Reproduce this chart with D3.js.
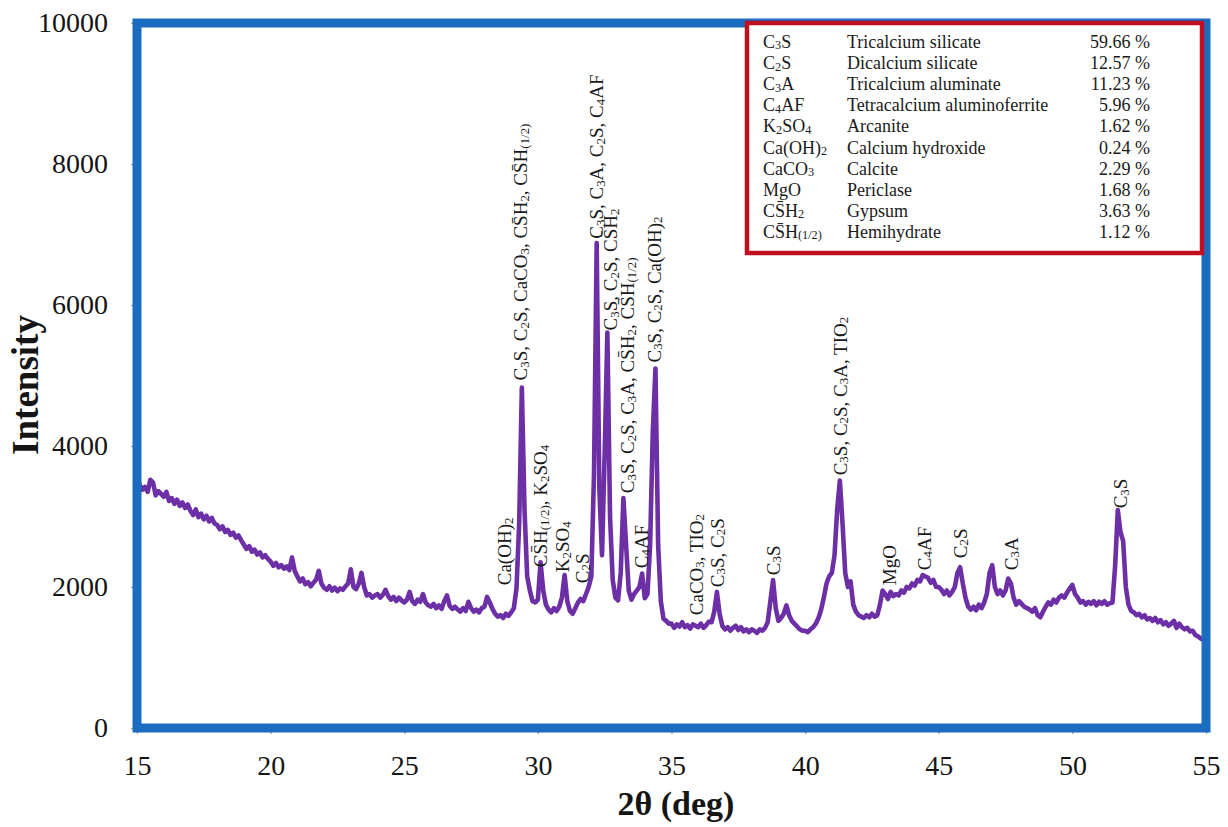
<!DOCTYPE html>
<html>
<head>
<meta charset="utf-8">
<script src="https://cdn.jsdelivr.net/npm/d3@7"></script>
<style>
  html, body { margin: 0; padding: 0; background: #fff; }
  svg { display: block; }
</style>
</head>
<body>
<svg id="chart" width="1228" height="827"></svg>
<script>
// XRD scan of cement clinker: counts sampled every 0.1 deg from 15 to 55 deg 2θ
const scanStart = 15;
const scanStep = 0.1;
const intensity = [
  3580, 3450, 3380, 3420, 3350, 3520, 3480, 3300, 3360, 3320, // 15
  3280, 3350, 3220, 3260, 3180, 3240, 3150, 3200, 3120, 3170, // 16
  3080, 3020, 3100, 2990, 3040, 2960, 3010, 2930, 2980, 2900, // 17
  2880, 2820, 2860, 2780, 2810, 2740, 2770, 2700, 2730, 2660, // 18
  2600, 2540, 2580, 2500, 2530, 2460, 2490, 2420, 2450, 2400, // 19
  2360, 2300, 2340, 2280, 2310, 2260, 2290, 2240, 2420, 2230, // 20
  2150, 2080, 2120, 2040, 2070, 2010, 2060, 2100, 2230, 2050, // 21
  1990, 1960, 2010, 1950, 1990, 1940, 1980, 1960, 2010, 2050, // 22
  2250, 2000, 1970, 2050, 2200, 2000, 1880, 1900, 1850, 1880, // 23
  1900, 1850, 1890, 1960, 1870, 1820, 1860, 1800, 1850, 1810, // 24
  1780, 1820, 1930, 1800, 1760, 1820, 1790, 1900, 1780, 1740, // 25
  1720, 1760, 1700, 1740, 1690, 1800, 1880, 1730, 1690, 1720, // 26
  1680, 1650, 1700, 1660, 1790, 1700, 1650, 1680, 1640, 1700, // 27
  1720, 1860, 1780, 1690, 1620, 1580, 1600, 1560, 1620, 1590, // 28
  1640, 1700, 1980, 2900, 4830, 3100, 2150, 1950, 1800, 1780, // 29
  1820, 2350, 1950, 1750, 1680, 1640, 1700, 1660, 1720, 1850, // 30
  2170, 1800, 1660, 1620, 1700, 1780, 1830, 1800, 1900, 2000, // 31
  2150, 3600, 6880, 3400, 2450, 3900, 5610, 3000, 2100, 1850, // 32
  1810, 2200, 3260, 2600, 1950, 1820, 1900, 1950, 2000, 2190, // 33
  1840, 1900, 2600, 4200, 5100, 2600, 1800, 1550, 1520, 1480, // 34
  1480, 1420, 1470, 1440, 1500, 1430, 1460, 1410, 1470, 1450, // 35
  1430, 1480, 1420, 1460, 1510, 1500, 1650, 1930, 1620, 1450, // 36
  1400, 1430, 1380, 1420, 1450, 1390, 1430, 1370, 1400, 1360, // 37
  1400, 1380, 1350, 1400, 1380, 1420, 1500, 1800, 2100, 1700, // 38
  1520, 1560, 1620, 1740, 1600, 1520, 1480, 1440, 1400, 1380, // 39
  1380, 1360, 1400, 1430, 1480, 1560, 1680, 1850, 2050, 2150, // 40
  2200, 2450, 3100, 3510, 2900, 2200, 2000, 2080, 1750, 1650, // 41
  1600, 1580, 1560, 1600, 1570, 1620, 1580, 1600, 1750, 1950, // 42
  1900, 1830, 1930, 1870, 1900, 1880, 1950, 1920, 2000, 1980, // 43
  2050, 2020, 2100, 2080, 2170, 2150, 2130, 2060, 2100, 2000, // 44
  2000, 1960, 1900, 1950, 1880, 1930, 2000, 2200, 2280, 2050, // 45
  1850, 1720, 1680, 1720, 1670, 1750, 1700, 1780, 1900, 2200, // 46
  2310, 2000, 1900, 1950, 1880, 1950, 2120, 2050, 1850, 1750, // 47
  1800, 1760, 1720, 1700, 1680, 1650, 1700, 1600, 1570, 1650, // 48
  1720, 1780, 1750, 1820, 1780, 1850, 1880, 1850, 1920, 1980, // 49
  2030, 1900, 1850, 1780, 1800, 1750, 1790, 1760, 1800, 1740, // 50
  1790, 1760, 1800, 1750, 1770, 1780, 2300, 3090, 2780, 2650, // 51
  2000, 1750, 1660, 1640, 1600, 1620, 1570, 1600, 1540, 1560, // 52
  1520, 1560, 1500, 1530, 1470, 1500, 1450, 1480, 1520, 1420, // 53
  1480, 1430, 1400, 1420, 1370, 1380, 1320, 1300, 1270, 1250, // 54
  1260                                                        // 55
];

// Phase assignments: 2θ and intensity where each label starts; {..} = subscript
const OB = "S\u0304";  // S with overbar (sulfate, cement notation)
const peakTheta = [28.76, 29.36, 30.10, 30.93, 31.67, 32.20, 32.72, 33.36, 33.88, 34.36,
                   35.93, 36.72, 38.81, 41.32, 43.15, 44.46, 45.80, 47.71, 51.82];
const peakLabelAt = [2025, 4930, 2280, 2210, 2054, 6940, 5640, 3330, 2266, 5184,
                     1600, 1997, 2167, 3584, 2025, 2238, 2408, 2238, 3116];
const peakText = [
  "Ca(OH){2}",
  "C{3}S, C{2}S, CaCO{3}, C" + OB + "H{2}, C" + OB + "H{(1/2)}",
  "C" + OB + "H{(1/2)}, K{2}SO{4}",
  "K{2}SO{4}",
  "C{2}S",
  "C{3}S, C{3}A, C{2}S, C{4}AF",
  "C{3}S, C{2}S, C" + OB + "H{2}",
  "C{3}S, C{2}S, C{3}A, C" + OB + "H{2}, C" + OB + "H{(1/2)}",
  "C{4}AF",
  "C{3}S, C{2}S, Ca(OH){2}",
  "CaCO{3}, TIO{2}",
  "C{3}S, C{2}S",
  "C{3}S",
  "C{3}S, C{2}S, C{3}A, TIO{2}",
  "MgO",
  "C{4}AF",
  "C{2}S",
  "C{3}A",
  "C{3}S"
];

// Phase composition table
const phaseFormula = ["C{3}S", "C{2}S", "C{3}A", "C{4}AF", "K{2}SO{4}", "Ca(OH){2}",
                      "CaCO{3}", "MgO", "C" + OB + "H{2}", "C" + OB + "H{(1/2)}"];
const phaseName = ["Tricalcium silicate", "Dicalcium silicate", "Tricalcium aluminate",
                   "Tetracalcium aluminoferrite", "Arcanite", "Calcium hydroxide",
                   "Calcite", "Periclase", "Gypsum", "Hemihydrate"];
const phasePercent = [59.66, 12.57, 11.23, 5.96, 1.62, 0.24, 2.29, 1.68, 3.63, 1.12];

const xTicks = [15, 20, 25, 30, 35, 40, 45, 50, 55];
const yTicks = [0, 2000, 4000, 6000, 8000, 10000];

const serif = "'Liberation Serif', 'Times New Roman', serif";
const svg = d3.select("#chart");

const x = d3.scaleLinear().domain([15, 55]).range([137, 1206]);
const y = d3.scaleLinear().domain([0, 10000]).range([728, 23]);

const scan = intensity.map((v, i) => [scanStart + i * scanStep, v]);

// Writes "C{3}S"-style strings into a text node, shrinking braced parts
function richText(sel, str, size) {
  const parts = str.split(/(\{[^}]*\})/).filter(s => s.length);
  let shifted = false;
  parts.forEach(p => {
    const isSub = p[0] === "{";
    const t = sel.append("tspan").text(isSub ? p.slice(1, -1) : p)
      .attr("font-size", isSub ? size * 0.68 : size);
    if (isSub && !shifted) { t.attr("dy", size * 0.08); shifted = true; }
    else if (!isSub && shifted) { t.attr("dy", -size * 0.08); shifted = false; }
  });
}

// Axes (ticks only; the frame is drawn separately)
const xAxis = svg.append("g").attr("transform", `translate(0,${y(0)})`)
  .call(d3.axisBottom(x).tickValues(xTicks).tickSize(6).tickPadding(21).tickFormat(d3.format("d")));
const yAxis = svg.append("g").attr("transform", `translate(${x(15)},0)`)
  .call(d3.axisLeft(y).tickValues(yTicks).tickSize(6).tickPadding(23).tickFormat(d3.format("d")));
[xAxis, yAxis].forEach(g => {
  g.select(".domain").remove();
  g.selectAll(".tick line").attr("stroke", "#9a9a9a").attr("stroke-width", 1.2);
  g.selectAll(".tick text").attr("font-family", serif).attr("font-size", 28).attr("fill", "#151515");
});

// Diffraction trace
svg.append("path")
  .datum(scan)
  .attr("fill", "none")
  .attr("stroke", "#6d2fa6")
  .attr("stroke-width", 4.6)
  .attr("stroke-linejoin", "round")
  .attr("d", d3.line().x(d => x(d[0])).y(d => y(d[1])));

// Plot frame
svg.append("rect")
  .attr("x", x(15)).attr("y", y(10000))
  .attr("width", x(55) - x(15)).attr("height", y(0) - y(10000))
  .attr("fill", "none").attr("stroke", "#1a6cc0").attr("stroke-width", 9);

// Peak phase labels, rotated to read upward
const lblSize = 19;
peakText.forEach((s, i) => {
  const t = svg.append("text")
    .attr("transform", `translate(${x(peakTheta[i]) + lblSize * 0.34},${y(peakLabelAt[i])}) rotate(-90)`)
    .attr("font-family", serif).attr("fill", "#1a1a1a");
  richText(t, s, lblSize);
});

// Axis titles
svg.append("text")
  .attr("x", 676).attr("y", 815)
  .attr("text-anchor", "middle")
  .attr("font-family", serif).attr("font-weight", "bold").attr("font-size", 34)
  .attr("fill", "#151515")
  .text("2θ (deg)");
svg.append("text")
  .attr("transform", "translate(38,385) rotate(-90)")
  .attr("text-anchor", "middle")
  .attr("font-family", serif).attr("font-weight", "bold").attr("font-size", 37)
  .attr("fill", "#151515")
  .text("Intensity");

// Composition table
const box = svg.append("g");
box.append("rect")
  .attr("x", 747).attr("y", 23).attr("width", 455).attr("height", 230)
  .attr("fill", "#fff").attr("stroke", "#c01020").attr("stroke-width", 4.5);
const rowY = d3.scaleLinear().domain([0, 9]).range([48, 238]);
const legSize = 18;
phaseFormula.forEach((f, i) => {
  const t = box.append("text").attr("x", 763).attr("y", rowY(i))
    .attr("font-family", serif).attr("fill", "#1a1a1a");
  richText(t, f, legSize);
  box.append("text").attr("x", 847).attr("y", rowY(i))
    .attr("font-family", serif).attr("font-size", legSize).attr("fill", "#1a1a1a")
    .text(phaseName[i]);
  box.append("text").attr("x", 1150).attr("y", rowY(i))
    .attr("text-anchor", "end")
    .attr("font-family", serif).attr("font-size", legSize).attr("fill", "#1a1a1a")
    .text(phasePercent[i].toFixed(2) + " %");
});
</script>
</body>
</html>
